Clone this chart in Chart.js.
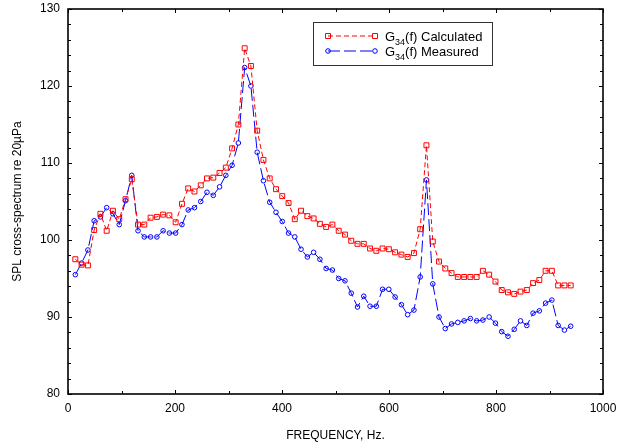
<!DOCTYPE html>
<html>
<head>
<meta charset="utf-8">
<title>G34 cross-spectrum</title>
<script src="https://cdn.jsdelivr.net/npm/chart.js@4.4.1/dist/chart.umd.min.js"></script>
<style>
html,body{margin:0;padding:0;background:#fff;}
#wrap{width:628px;height:446px;}
</style>
</head>
<body>
<div id="wrap"><canvas id="spectrumChart" width="628" height="446"></canvas></div>
<script>
/* ==========================================
   DATA
========================================== */

const freqHz = [
    13.7, 25.4, 37.2, 48.9, 60.6, 72.3, 84.0, 95.8, 107.5, 119.2,
    130.9, 142.6, 154.4, 166.1, 177.8, 189.5, 201.2, 213.0, 224.7, 236.4,
    248.1, 259.8, 271.6, 283.3, 295.0, 306.7, 318.4, 330.2, 341.9, 353.6,
    365.3, 377.0, 388.8, 400.5, 412.2, 423.9, 435.6, 447.4, 459.1, 470.8,
    482.5, 494.2, 506.0, 517.7, 529.4, 541.1, 552.8, 564.6, 576.3, 588.0,
    599.7, 611.4, 623.2, 634.9, 646.6, 658.3, 670.0, 681.8, 693.5, 705.2,
    716.9, 728.6, 740.4, 752.1, 763.8, 775.5, 787.2, 799.0, 810.7, 822.4,
    834.1, 845.8, 857.6, 869.3, 881.0, 892.7, 904.4, 916.2, 927.9, 939.6
];

const calculatedDb = [
    97.5, 96.8, 96.7, 101.3, 103.4, 101.2, 103.8, 102.7, 105.3, 107.9,
    102.0, 102.0, 102.9, 103.0, 103.3, 103.2, 102.3, 104.7, 106.7, 106.3,
    107.1, 108.0, 108.1, 108.7, 109.4, 111.9, 115.0, 124.9, 122.6, 114.2,
    110.4, 108.0, 106.6, 105.7, 104.8, 102.7, 103.8, 103.1, 102.8, 102.1,
    101.7, 102.0, 101.2, 100.7, 99.9, 99.5, 99.5, 98.9, 98.6, 98.9,
    98.8, 98.4, 98.1, 97.8, 98.3, 101.4, 112.3, 99.8, 97.2, 96.3,
    95.7, 95.2, 95.2, 95.2, 95.2, 96.0, 95.5, 94.6, 93.5, 93.2,
    93.0, 93.3, 93.5, 94.4, 94.8, 96.0, 96.0, 94.1, 94.1, 94.1
];

const measuredDb = [
    95.5, 97.0, 98.7, 102.5, 103.0, 104.2, 103.4, 102.0, 105.1, 108.4,
    101.2, 100.4, 100.4, 100.4, 101.2, 100.9, 100.9, 102.0, 103.9, 104.2,
    105.0, 106.2, 105.8, 106.9, 108.4, 109.7, 112.6, 122.4, 120.0, 111.4,
    107.7, 104.9, 103.6, 102.4, 100.9, 100.4, 98.8, 97.8, 98.4, 97.5,
    96.3, 96.1, 95.0, 94.7, 93.1, 91.3, 92.7, 91.4, 91.4, 93.6,
    93.6, 92.6, 91.6, 90.3, 90.9, 95.2, 107.8, 94.3, 90.0, 88.5,
    89.1, 89.3, 89.5, 89.8, 89.5, 89.6, 90.0, 89.2, 88.1, 87.5,
    88.4, 89.5, 88.9, 90.5, 90.8, 91.8, 92.2, 88.9, 88.3, 88.8
];

const seriesNames = ["Calculated", "Measured"];

const xTicks = [0, 200, 400, 600, 800, 1000];
const yTicks = [80, 90, 100, 110, 120, 130];

const X_MINOR = 100;
const Y_MINOR = 2;

const FONT = "'Liberation Sans', Arial, sans-serif";


/* ==========================================
   HELPERS
========================================== */

function toPoints(ys){

    return ys.map((y, i) => ({ x: freqHz[i], y }));

}


/* ==========================================
   FRAME + INWARD TICKS
========================================== */

const frameTicks = {

    id: "frameTicks",

    afterDraw(chart){

        const { ctx, chartArea: a, scales: { x, y } } = chart;

        ctx.save();
        ctx.strokeStyle = "#000";
        ctx.lineWidth = 1;
        ctx.beginPath();

        for (let v = xTicks[0]; v <= xTicks[xTicks.length - 1]; v += X_MINOR) {

            const px = Math.round(x.getPixelForValue(v)) + 0.5;
            const len = xTicks.includes(v) ? 4 : 3;

            ctx.moveTo(px, a.bottom);
            ctx.lineTo(px, a.bottom - len);
            ctx.moveTo(px, a.top);
            ctx.lineTo(px, a.top + len);

        }

        for (let v = yTicks[0]; v <= yTicks[yTicks.length - 1]; v += Y_MINOR) {

            const py = Math.round(y.getPixelForValue(v)) + 0.5;
            const len = yTicks.includes(v) ? 4 : 3;

            ctx.moveTo(a.left, py);
            ctx.lineTo(a.left + len, py);
            ctx.moveTo(a.right, py);
            ctx.lineTo(a.right - len, py);

        }

        ctx.stroke();

        ctx.lineWidth = 1.6;
        ctx.strokeRect(a.left, a.top, a.right - a.left, a.bottom - a.top);

        ctx.restore();

    }

};


/* ==========================================
   LEGEND BOX (with subscript)
========================================== */

const seriesKey = {

    id: "seriesKey",

    afterDraw(chart){

        const { ctx, chartArea: a } = chart;

        const left = a.left + 245;
        const top = a.top + 13;
        const w = 179;
        const h = 43;

        ctx.save();

        ctx.fillStyle = "#fff";
        ctx.fillRect(left, top, w, h);
        ctx.strokeStyle = "#333";
        ctx.lineWidth = 1;
        ctx.strokeRect(left + 0.5, top + 0.5, w, h);

        chart.data.datasets.forEach((ds, i) => {

            const rowY = top + 14 + i * 15;
            const x0 = left + 15;
            const x1 = left + 62;

            ctx.strokeStyle = ds.borderColor;
            ctx.lineWidth = 1;
            ctx.setLineDash(ds.borderDash);
            ctx.beginPath();
            ctx.moveTo(x0, rowY);
            ctx.lineTo(x1, rowY);
            ctx.stroke();
            ctx.setLineDash([]);

            [x0, x1].forEach(px => {

                ctx.beginPath();

                if (ds.pointStyle === "rect") {

                    ctx.rect(px - 2.5, rowY - 2.5, 5, 5);

                } else {

                    ctx.arc(px, rowY, 2.3, 0, Math.PI * 2);

                }

                ctx.stroke();

            });

            // G with subscript 34, then the series name
            let tx = left + 72;
            const base = rowY + 4.5;

            ctx.fillStyle = "#000";
            ctx.textBaseline = "alphabetic";
            ctx.font = "13px " + FONT;
            ctx.fillText("G", tx, base);
            tx += ctx.measureText("G").width;

            ctx.font = "9px " + FONT;
            ctx.fillText("34", tx, base + 4);
            tx += ctx.measureText("34").width;

            ctx.font = "13px " + FONT;
            ctx.fillText("(f) " + seriesNames[i], tx, base);

        });

        ctx.restore();

    }

};


/* ==========================================
   CHART
========================================== */

const ctx = document.getElementById("spectrumChart").getContext("2d");

new Chart(ctx, {

    type: "line",

    data: {

        datasets: [

            {
                label: "G34(f) " + seriesNames[0],
                data: toPoints(calculatedDb),
                borderColor: "#ff0000",
                borderWidth: 1,
                borderDash: [5, 3],
                pointStyle: "rect",
                pointRadius: 3.5,
                pointBorderWidth: 1,
                pointBorderColor: "#ff0000",
                pointBackgroundColor: "rgba(0,0,0,0)",
                fill: false,
                tension: 0
            },

            {
                label: "G34(f) " + seriesNames[1],
                data: toPoints(measuredDb),
                borderColor: "#0000ff",
                borderWidth: 1,
                borderDash: [12, 4],
                pointStyle: "circle",
                pointRadius: 2.3,
                pointBorderWidth: 1,
                pointBorderColor: "#0000ff",
                pointBackgroundColor: "rgba(0,0,0,0)",
                fill: false,
                tension: 0
            }

        ]

    },

    options: {

        responsive: false,
        animation: false,
        devicePixelRatio: 1,

        layout: {
            padding: { top: 9, right: 25, bottom: 0, left: 0 }
        },

        plugins: {
            legend: { display: false },
            tooltip: { enabled: false }
        },

        scales: {

            x: {
                type: "linear",
                min: xTicks[0],
                max: xTicks[xTicks.length - 1],
                afterBuildTicks: s => { s.ticks = xTicks.map(v => ({ value: v })); },
                afterFit: s => { s.height = 52; s.paddingLeft = 0; s.paddingRight = 0; },
                grid: { display: false, drawTicks: false },
                border: { display: false },
                ticks: {
                    padding: 7,
                    color: "#000",
                    maxRotation: 0,
                    callback: v => String(v),
                    font: { family: FONT, size: 12 }
                },
                title: {
                    display: true,
                    text: "FREQUENCY, Hz.",
                    color: "#000",
                    padding: { top: 0, bottom: 3 },
                    font: { family: FONT, size: 12 }
                }
            },

            y: {
                type: "linear",
                min: yTicks[0],
                max: yTicks[yTicks.length - 1],
                afterBuildTicks: s => { s.ticks = yTicks.map(v => ({ value: v })); },
                afterFit: s => { s.width = 68; s.paddingTop = 0; s.paddingBottom = 0; },
                grid: { display: false, drawTicks: false },
                border: { display: false },
                ticks: {
                    padding: 8,
                    color: "#000",
                    callback: v => String(v),
                    font: { family: FONT, size: 12 }
                },
                title: {
                    display: true,
                    text: "SPL cross-spectrum re 20µPa",
                    color: "#000",
                    padding: { top: 10, bottom: 0 },
                    font: { family: FONT, size: 12 }
                }
            }

        }

    },

    plugins: [frameTicks, seriesKey]

});
</script>
</body>
</html>
